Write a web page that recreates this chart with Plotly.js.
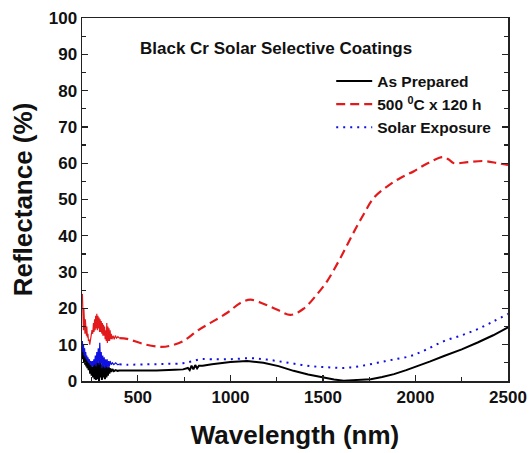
<!DOCTYPE html>
<html><head><meta charset="utf-8">
<script src="https://cdn.plot.ly/plotly-3.0.1.min.js"></script>
<style>html,body{margin:0;padding:0;background:#fff}#c{width:531px;height:453px}</style>
</head><body><div id="c"></div>
<script>
// As Prepared (black, solid)
const blackX = [200,203,206,209,212,215,218,221,224,227,230,234,238,242,246,250,254,258,262,266,270,274,278,282,286,290,294,298,302,306,310,314,318,322,326,330,334,338,342,346,350,356,362,370,380,390,400,450,500,600,700,744,770,780,790,800,810,820,830,850,900,1000,1090,1178,1260,1341,1420,1504,1560,1612,1680,1758,1820,1884,1950,2012,2080,2154,2250,2336,2420,2500];
const blackY = [10,6,9,5,8,4.5,6.5,4,6,3.5,5,3,5,2,4.5,1.5,4,1,5,0.5,5.5,0.3,6,0.5,5,0,6,1,4.5,0.3,5,1,4,0.5,5,1,4,1.5,4,2,3.5,2.5,3.3,2.7,3,2.8,2.9,2.9,2.8,2.9,3.1,3.2,3.6,3,4.2,3.2,4.4,3.5,4.2,4.2,4.6,5.2,5.5,5.0,4.1,2.8,1.8,0.9,0.4,0.1,0.2,0.5,1.1,1.9,3.0,4.1,5.4,6.9,8.7,10.6,12.6,14.8];

// 500 °C x 120 h (red, dashed) – noisy UV part and smooth part
const redNoiseX = [200,202,204,206,208,210,212,214,216,218,220,222,224,227,230,233,236,240,244,248,252,256,260,263,266,269,272,275,278,281,284,287,290,293,296,299,302,305,308,311,314,317,320,323,326,329,332,335,338,341,344,347,350,353,356,360,366,372,378,385,392,400];
const redNoiseY = [24,15,22,14,20,15,19,13,17,14,16,12.5,15,12,13,11,11.5,10,11,12,14,13,16,13.5,17,14,18,14.5,18.5,14,18,14.5,17.5,13.5,17,13.5,16.5,13,16,12.5,15.5,12.5,15,11.5,14,11,16,10.5,15,11,14.5,11,14,11.5,13,11.5,12.5,11.5,12.5,11.8,12.2,11.8];
const redX = [400,442,529,621,675,745,820,892,983,1054,1108,1178,1254,1325,1395,1470,1524,1585,1633,1677,1721,1774,1850,1921,1992,2066,2148,2180,2208,2283,2370,2445,2500];
const redY = [11.8,11.6,10.2,9.4,9.7,11,13.8,16,18.8,21.5,22.4,21.3,19.6,18.2,19.9,24,27.6,33,37.7,42,46,50.4,53.7,56,57.8,60,61.7,61,60,60.3,60.6,60,59.5];

// Solar Exposure (blue, dotted)
const blueNoiseX = [200,203,206,209,212,215,218,221,224,227,230,234,238,242,246,250,254,258,262,266,270,274,278,282,286,290,294,298,302,306,310,314,318,322,326,330,334,338,342,346,350,356,362,370,380,390,400];
const blueNoiseY = [11,8,10,7,9,6.5,8,6,7,5.5,6.5,5,6,4.5,5.5,4,5.5,4,6,4.5,7,4,8,5,9,4.5,10.5,5,8,3.5,7,4,6.5,3.5,6,4,6,3.5,5.5,4,5.5,4.5,5,4.5,5,4.5,4.6];
const blueX = [400,442,550,650,744,790,838,900,1000,1108,1180,1254,1340,1433,1520,1612,1700,1793,1880,1975,2060,2154,2250,2336,2420,2500];
const blueY = [4.6,4.5,4.6,4.7,4.9,5.4,6.0,6.0,6.0,6.3,6.0,5.5,4.8,4.1,3.8,3.6,4.1,5.0,5.9,6.9,8.7,11,12.6,14.3,16.4,18.5];

const xTicks = [500,1000,1500,2000,2500];
const yTicks = [0,10,20,30,40,50,60,70,80,90,100];

const traces = [
  {x: blackX, y: blackY, mode: 'lines', name: 'As Prepared', line: {color: '#000000', width: 2}},
  {x: redNoiseX, y: redNoiseY, mode: 'lines', showlegend: false, line: {color: '#e31a1c', width: 1.2}},
  {x: redX, y: redY, mode: 'lines', name: '500 <sup>0</sup>C x 120 h', line: {color: '#e31a1c', width: 2.2, dash: '9px,5px', shape: 'spline'}},
  {x: blueNoiseX, y: blueNoiseY, mode: 'lines', showlegend: false, line: {color: '#1010e0', width: 1.2}},
  {x: blueX, y: blueY, mode: 'lines', name: 'Solar Exposure', line: {color: '#1010e0', width: 2, dash: '2px,5px', shape: 'spline'}}
];

const font = {family: '"Liberation Sans", Arial, sans-serif', color: '#111', weight: 'bold'};

const layout = {
  width: 531, height: 453,
  margin: {l: 82, r: 23, t: 18, b: 72},
  paper_bgcolor: '#fff', plot_bgcolor: '#fff',
  showlegend: true,
  legend: {x: 0.585, y: 0.872, xanchor: 'left', yanchor: 'top', bgcolor: 'rgba(0,0,0,0)',
    font: Object.assign({}, font, {size: 15.5}), tracegroupgap: 0, itemwidth: 36},
  xaxis: {
    range: [198, 2500], tickvals: xTicks, ticktext: xTicks.map(String),
    ticks: 'inside', ticklen: 6, tickwidth: 1.2, tickcolor: '#222',
    minor: {dtick: 250, tick0: 0, ticks: 'inside', ticklen: 4, tickcolor: '#222'},
    showline: true, linecolor: '#222', linewidth: 1.5, mirror: true,
    showgrid: false, zeroline: false,
    tickfont: Object.assign({}, font, {size: 17}),
    title: {text: 'Wavelength (nm)', font: Object.assign({}, font, {size: 26}), standoff: 20}
  },
  yaxis: {
    range: [0, 100], tickvals: yTicks, ticktext: yTicks.map(String),
    ticks: 'inside', ticklen: 6, tickwidth: 1.2, tickcolor: '#222',
    minor: {dtick: 5, tick0: 0, ticks: 'inside', ticklen: 4, tickcolor: '#222'},
    showline: true, linecolor: '#222', linewidth: 1.5, mirror: 'allticks',
    showgrid: false, zeroline: false,
    tickfont: Object.assign({}, font, {size: 17}),
    title: {text: 'Reflectance (%)', font: Object.assign({}, font, {size: 26}), standoff: 8}
  },
  annotations: [{
    text: 'Black Cr Solar Selective Coatings', xref: 'paper', yref: 'paper',
    x: 0.455, y: 0.915, xanchor: 'center', yanchor: 'middle', showarrow: false,
    font: Object.assign({}, font, {size: 17})
  }]
};

Plotly.newPlot('c', traces, layout, {displayModeBar: false, staticPlot: true});
</script>
</body></html>
